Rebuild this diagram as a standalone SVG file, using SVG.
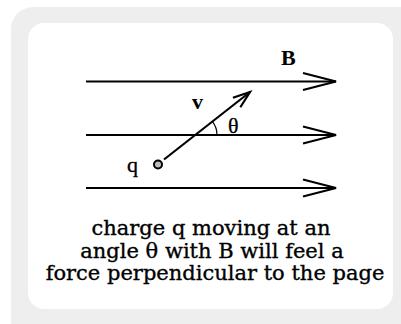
<svg xmlns="http://www.w3.org/2000/svg" width="401" height="324" viewBox="0 0 401 324">
<defs>
<style>
.fl{stroke:#000;stroke-width:2.2;fill:none}
.lab{font-family:"Liberation Serif","Times New Roman",serif;font-size:22px;fill:#000}
.cap{font-family:"DejaVu Serif","Liberation Serif",serif;font-size:21px;fill:#000;stroke:#000;stroke-width:0.35;text-anchor:middle}
</style>
<marker id="ahB" markerUnits="userSpaceOnUse" markerWidth="40" markerHeight="24" viewBox="-36 -12 40 24" refX="0" refY="0" orient="auto" overflow="visible">
<path d="M-33,-8.5 L0,0 L-33,8.5" fill="none" stroke="#000" stroke-width="2.2"/>
</marker>
<marker id="ahV" markerUnits="userSpaceOnUse" markerWidth="24" markerHeight="20" viewBox="-20 -10 24 20" refX="0" refY="0" orient="auto" overflow="visible">
<path d="M-17,-6 L0,0 L-17,6" fill="none" stroke="#000" stroke-width="2.2"/>
</marker>
</defs>
<rect x="11" y="7" width="420" height="340" rx="22" fill="#eeeeee"/>
<rect x="28" y="23" width="365" height="286" rx="16" fill="#ffffff"/>
<g id="connectors">
<line id="B1" class="fl" x1="86" y1="81.5" x2="336" y2="81.5" marker-end="url(#ahB)"/>
<line id="B2" class="fl" x1="86" y1="135" x2="336" y2="135" marker-end="url(#ahB)"/>
<line id="B3" class="fl" x1="86" y1="188" x2="336" y2="188" marker-end="url(#ahB)"/>
<line id="v" class="fl" x1="164" y1="159.5" x2="250" y2="92" marker-end="url(#ahV)"/>
<path id="angle" d="M217,135 A22,22 0 0 0 212.3,121.4" fill="none" stroke="#000" stroke-width="1.2"/>
</g>
<g id="charge">
<circle cx="158" cy="164.5" r="4" fill="#bdbdbd" stroke="#000" stroke-width="2"/>
<text class="lab" x="127" y="172" stroke="#000" stroke-width="0.3">q</text>
</g>
<g id="labels">
<text class="lab" x="281" y="65" font-weight="bold">B</text>
<text class="lab" x="192" y="109" font-weight="bold">v</text>
<text class="lab" x="228" y="133" stroke="#000" stroke-width="0.3">θ</text>
</g>
<g id="caption">
<text class="cap" x="211" y="235">charge q moving at an</text>
<text class="cap" x="212" y="258">angle θ with B will feel a</text>
<text class="cap" x="215" y="280">force perpendicular to the page</text>
</g>
</svg>
